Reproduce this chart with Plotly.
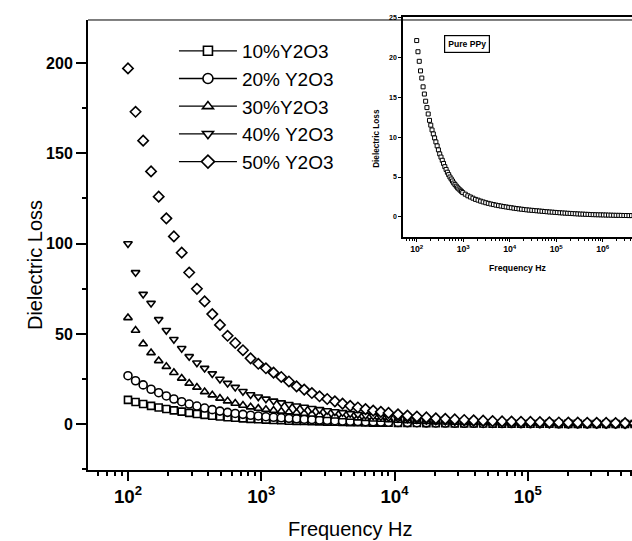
import plotly.graph_objects as go

# ---------------- main chart data ----------------
freq = [100, 114, 130, 149, 170, 194, 221, 253, 288, 329, 376, 429, 490, 559, 638,
        729, 832, 950, 1084, 1237, 1413, 1613, 1841, 2101, 2399, 2738, 3126, 3569,
        4074, 4650, 5309, 6061, 6918, 7898, 9016, 10620, 12500, 14720, 17340, 20420,
        24040, 28310, 33340, 39260, 46240, 54450, 64120, 75510, 88920, 104700, 123300,
        145200, 171000, 201400, 237100, 279300, 328900, 387300, 456000, 537000, 632400]

loss_10 = [13.5, 12.3, 11.2, 10.2, 9.3, 8.5, 7.7, 7.0, 6.3, 5.7, 5.2, 4.7, 4.3, 3.9, 3.6,
           3.3, 3.0, 2.8, 2.6, 2.4, 2.2, 2.0, 1.9, 1.8, 1.7, 1.6, 1.5, 1.4, 1.3, 1.2,
           1.1, 1.0, 0.95, 0.9, 0.85, 0.8, 0.75, 0.7, 0.65, 0.6, 0.56, 0.52, 0.48, 0.45,
           0.42, 0.39, 0.36, 0.34, 0.32, 0.3, 0.28, 0.26, 0.24, 0.22, 0.21, 0.2, 0.19,
           0.18, 0.17, 0.16, 0.15]
loss_20 = [26.9, 24.1, 21.8, 19.4, 17.5, 15.7, 14.0, 12.5, 11.2, 10.1, 9.0, 8.1, 7.3, 6.6,
           6.0, 5.5, 5.0, 4.6, 4.2, 3.9, 3.6, 3.3, 3.05, 2.8, 2.6, 2.4, 2.2, 2.0, 1.85,
           1.7, 1.55, 1.45, 1.35, 1.25, 1.15, 1.05, 0.95, 0.88, 0.8, 0.74, 0.68, 0.63,
           0.58, 0.54, 0.5, 0.47, 0.44, 0.41, 0.38, 0.36, 0.34, 0.32, 0.3, 0.28, 0.26,
           0.25, 0.24, 0.23, 0.22, 0.21, 0.2]
loss_30 = [59, 52, 44.5, 39.6, 35.2, 32, 28.6, 25.5, 22.7, 20.5, 18, 16.2, 14.4, 12.9, 11.6,
           10.5, 9.6, 8.8, 8.2, 7.7, 7.2, 6.8, 6.4, 6.0, 5.6, 5.2, 4.8, 4.5, 4.1, 3.8,
           3.5, 3.2, 2.9, 2.7, 2.5, 2.2, 1.9, 1.7, 1.5, 1.3, 1.2, 1.1, 1.0, 0.9, 0.8,
           0.75, 0.7, 0.65, 0.6, 0.55, 0.5, 0.47, 0.44, 0.41, 0.38, 0.36, 0.34, 0.32,
           0.3, 0.28, 0.26]
loss_40 = [100, 84, 72, 67, 58, 52, 47, 42, 37.5, 34, 31, 28, 25, 22.7, 20.5, 18.2, 16.4,
           15.2, 14.0, 12.9, 11.9, 11.0, 10.2, 9.5, 8.8, 8.2, 7.6, 7.0, 6.5, 6.0, 5.5,
           5.0, 4.6, 4.2, 3.8, 3.3, 2.9, 2.5, 2.2, 1.9, 1.7, 1.5, 1.3, 1.1, 1.0, 0.9,
           0.85, 0.8, 0.75, 0.7, 0.65, 0.6, 0.55, 0.5, 0.48, 0.45, 0.42, 0.4, 0.38,
           0.36, 0.34]
loss_50 = [197, 173, 157, 140, 126, 114, 104, 95, 84, 75, 68, 61, 55, 49, 45, 41, 36.5,
           33.5, 31, 28.6, 26.2, 23.7, 21, 19.2, 17.3, 15.5, 14, 12.7, 11.4, 10.2, 9.3,
           8.4, 7.6, 6.9, 6.3, 5.5, 4.8, 4.3, 3.8, 3.3, 3.0, 2.7, 2.4, 2.2, 2.0, 1.8,
           1.6, 1.5, 1.4, 1.3, 1.2, 1.1, 1.0, 0.95, 0.9, 0.85, 0.8, 0.75, 0.7, 0.65, 0.6]

series_names = ["10%Y2O3", "20% Y2O3", "30%Y2O3", "40% Y2O3", "50% Y2O3"]
series_values = [loss_10, loss_20, loss_30, loss_40, loss_50]
series_symbols = ["square", "circle", "triangle-up", "triangle-down", "diamond"]
series_sizes = [7, 8, 7.5, 7.5, 8]

# ---------------- inset data (pure PPy) ----------------
inset_freq = [100, 106.5, 113.5, 120.9, 128.8, 137.2, 146.2, 155.7, 166.0, 176.8, 188.4,
              200.7, 213.8, 227.8, 242.7, 258.5, 275.4, 293.4, 312.6, 333.1, 354.8, 378.0,
              402.7, 429.0, 457.1, 486.9, 518.8, 552.7, 588.8, 627.3, 668.3, 712.0, 758.6,
              808.2, 861.0, 917.3, 977.2, 1109, 1259, 1429, 1622, 1841, 2089, 2371, 2692,
              3055, 3467, 3936, 4467, 5070, 5754, 6531, 7413, 8414, 9550, 10840, 12300,
              13960, 15850, 17990, 20420, 23170, 26300, 29850, 33880, 38460, 43650, 49550,
              56230, 63830, 72440, 82220, 93330, 105900, 120200, 136500, 154900, 175800,
              199500, 226500, 257000, 291700, 331100, 375800, 426600, 484200, 549500,
              623700, 707900, 803500, 912000, 1035000, 1175000, 1334000, 1514000, 1718000,
              1950000, 2213000, 2512000, 2851000, 3236000, 3673000, 4169000, 4732000]
inset_loss = [22.1, 20.7, 19.5, 18.3, 17.4, 16.3, 15.4, 14.5, 13.7, 12.9, 12.1, 11.5, 10.9,
              10.4, 9.9, 9.4, 8.9, 8.4, 7.9, 7.5, 7.1, 6.7, 6.3, 5.95, 5.6, 5.3, 5.0, 4.75,
              4.5, 4.25, 4.05, 3.85, 3.65, 3.5, 3.35, 3.2, 3.05,
              2.85, 2.65, 2.5, 2.35, 2.2, 2.1, 1.98, 1.88, 1.78, 1.7, 1.62, 1.55, 1.48,
              1.42, 1.36, 1.3, 1.25, 1.2,
              1.15, 1.1, 1.05, 1.01, 0.97, 0.93, 0.89, 0.86, 0.83, 0.8, 0.77, 0.74, 0.71,
              0.68, 0.65, 0.62, 0.6, 0.57,
              0.55, 0.52, 0.5, 0.48, 0.46, 0.44, 0.42, 0.4, 0.38, 0.36, 0.35, 0.33, 0.32,
              0.3, 0.29, 0.28, 0.27, 0.26,
              0.25, 0.24, 0.23, 0.22, 0.21, 0.2, 0.2, 0.19, 0.18, 0.18, 0.17, 0.17, 0.16]

FONT = "Arial, Liberation Sans, Helvetica, sans-serif"

fig = go.Figure()

# main data (markers only)
for name, vals, sym, sz in zip(series_names, series_values, series_symbols, series_sizes):
    fig.add_trace(go.Scatter(
        x=freq, y=vals, mode="markers", name=name, showlegend=False,
        marker=dict(symbol=sym, size=sz, color="white",
                    line=dict(color="black", width=1.6)),
        xaxis="x", yaxis="y"))

# legend entries (line + marker, like the original)
for name, sym, sz in zip(series_names, series_symbols, series_sizes):
    fig.add_trace(go.Scatter(
        x=[None], y=[None], mode="lines+markers", name=name, showlegend=True,
        line=dict(color="black", width=1.3),
        marker=dict(symbol=sym, size=sz + 2, color="white",
                    line=dict(color="black", width=1.6)),
        xaxis="x", yaxis="y"))

# inset
fig.add_trace(go.Scatter(
    x=inset_freq, y=inset_loss, mode="markers", showlegend=False, name="Pure PPy",
    marker=dict(symbol="square", size=4, color="white",
                line=dict(color="black", width=1)),
    xaxis="x2", yaxis="y2"))

fig.update_layout(
    width=632, height=541,
    margin=dict(l=88, r=0, t=17, b=71, pad=0),
    paper_bgcolor="white", plot_bgcolor="rgba(0,0,0,0)",
    font=dict(family=FONT, color="black"),
    showlegend=True,
    legend=dict(x=0.158, y=0.967, xanchor="left", yanchor="top",
                font=dict(family=FONT, size=19, color="black"),
                bgcolor="rgba(0,0,0,0)", borderwidth=0, itemwidth=58,
                tracegroupgap=0),
    xaxis=dict(type="log", range=[1.70, 5.782], domain=[0, 1], anchor="y",
               showline=True, linewidth=2, linecolor="black", mirror=False,
               ticks="outside", ticklen=9, tickwidth=2, tickcolor="black",
               dtick=1, exponentformat="power",
               tickfont=dict(family=FONT, size=15, weight="bold"),
               showgrid=False, zeroline=False,
               minor=dict(ticks="outside", ticklen=4, tickwidth=1.5,
                          tickcolor="black", dtick="D1", showgrid=False)),
    yaxis=dict(range=[-25.3, 223.8], domain=[0, 0.9934], anchor="x",
               showline=True, linewidth=2, linecolor="black",
               ticks="outside", ticklen=10, tickwidth=2, tickcolor="black",
               tick0=0, dtick=50,
               tickfont=dict(family=FONT, size=16, weight="bold"),
               showgrid=False, zeroline=False,
               minor=dict(ticks="outside", ticklen=4, tickwidth=1.5,
                          tickcolor="black", dtick=25, showgrid=False)),
    xaxis2=dict(type="log", range=[1.705, 6.63], domain=[0.579, 1], anchor="y2",
                showline=True, linewidth=1.5, linecolor="black", mirror=True,
                ticks="outside", ticklen=3, tickwidth=1, tickcolor="black",
                dtick=1, exponentformat="power",
                tickfont=dict(family=FONT, size=7, weight="bold"),
                showgrid=False, zeroline=False,
                minor=dict(ticks="outside", ticklen=2, tickwidth=1,
                           tickcolor="black", dtick="D1", showgrid=False)),
    yaxis2=dict(range=[-2.55, 25.05], domain=[0.5137, 1], anchor="x2",
                showline=True, linewidth=1.5, linecolor="black",
                ticks="outside", ticklen=3, tickwidth=1, tickcolor="black",
                tick0=0, dtick=5,
                tickfont=dict(family=FONT, size=7, weight="bold"),
                showgrid=False, zeroline=False),
    shapes=[dict(type="line", xref="paper", yref="paper", x0=0, x1=1,
                 y0=0.9934, y1=0.9934, line=dict(color="black", width=1),
                 layer="above")],
    annotations=[
        dict(text="Dielectric Loss", xref="paper", yref="paper", x=-0.0974, y=0.4525,
             xanchor="center", yanchor="middle", textangle=-90, showarrow=False,
             font=dict(family=FONT, size=20, color="black")),
        dict(text="Frequency Hz", xref="paper", yref="paper", x=0.483, y=-0.130,
             xanchor="center", yanchor="middle", showarrow=False,
             font=dict(family=FONT, size=20, color="black")),
        dict(text="Frequency Hz", xref="paper", yref="paper", x=0.790, y=0.446,
             xanchor="center", yanchor="middle", showarrow=False,
             font=dict(family=FONT, size=8.7, color="black", weight="bold")),
        dict(text="Dielectric Loss", xref="paper", yref="paper", x=0.531, y=0.733,
             xanchor="center", yanchor="middle", textangle=-90, showarrow=False,
             font=dict(family=FONT, size=8.2, color="black", weight="bold")),
        dict(text="Pure PPy", xref="paper", yref="paper", x=0.696, y=0.940,
             xanchor="center", yanchor="middle", showarrow=False,
             bordercolor="black", borderwidth=1.2, borderpad=3, bgcolor="white",
             font=dict(family=FONT, size=8.6, color="black", weight="bold")),
    ],
)

fig.write_html("out.html",
               config={"displayModeBar": False},
               post_script="document.body.style.margin='0px';document.body.style.padding='0px';")
